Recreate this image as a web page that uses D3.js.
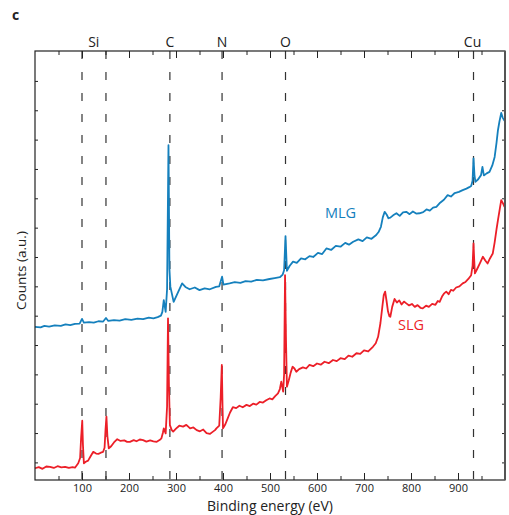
<!DOCTYPE html>
<html>
<head>
<meta charset="utf-8">
<script src="https://cdn.jsdelivr.net/npm/d3@7"></script>
<style>
  body { margin: 0; background: white; }
  svg text { font-family: "Open Sans", sans-serif; }
</style>
</head>
<body>
<div id="chart"></div>
<script>
// Define constants and variables
const width = 509;
const height = 515;
const margin = { top: 51, right: 4, bottom: 35, left: 35 };

// MLG survey spectrum (binding energy in eV, counts in a.u.)
const energyMLG = [0, 12, 20, 30, 42, 55, 65, 75, 85, 95, 100, 104, 115, 125, 135, 145, 151, 156, 168, 180,
  192, 205, 218, 230, 242, 252, 261, 268, 271, 274, 278, 281, 284, 286, 288, 295, 303, 313, 320, 329,
  340, 350, 361, 372, 385, 392, 398, 401, 414, 425, 437, 448, 460, 472, 485, 499, 510, 521, 527, 530,
  533, 536, 542, 549, 557, 566, 575, 584, 592, 602, 611, 620, 630, 640, 650, 660, 668, 677, 688, 697,
  706, 716, 726, 731, 736, 740, 744, 748, 752, 756, 762, 769, 776, 783, 790, 797, 804, 811, 818, 826,
  833, 840, 847, 854, 862, 870, 878, 885, 893, 902, 910, 918, 924, 928, 931, 933, 935, 937, 943, 949,
  952, 955, 961, 967, 973, 978, 982, 985, 988, 992, 995, 999];
const countsMLG = [5.22, 5.20, 5.25, 5.23, 5.27, 5.25, 5.30, 5.28, 5.32, 5.33, 5.49, 5.36, 5.38, 5.36, 5.41, 5.40, 5.52, 5.42, 5.45, 5.43,
  5.48, 5.46, 5.50, 5.48, 5.53, 5.51, 5.55, 5.60, 5.73, 6.13, 5.73, 6.5, 11.41, 7.2, 6.59, 6.07, 6.35, 6.70, 6.58, 6.50,
  6.56, 6.47, 6.53, 6.50, 6.58, 6.60, 6.93, 6.66, 6.70, 6.74, 6.72, 6.78, 6.76, 6.82, 6.80, 6.85, 6.88, 6.91, 7.0, 7.15,
  8.31, 7.13, 7.30, 7.44, 7.40, 7.55, 7.52, 7.63, 7.60, 7.74, 7.70, 7.89, 7.84, 7.98, 7.95, 8.08, 8.02, 8.12, 8.20, 8.14,
  8.27, 8.22, 8.35, 8.45, 8.63, 8.95, 9.14, 9.05, 8.92, 8.94, 9.02, 9.09, 9.00, 9.12, 9.14, 9.06, 9.15, 9.08, 9.09, 9.13,
  9.22, 9.18, 9.28, 9.31, 9.45, 9.55, 9.71, 9.66, 9.78, 9.82, 9.88, 9.93, 9.98, 10.02, 10.2, 10.96, 10.4, 10.16, 10.25, 10.39,
  10.67, 10.38, 10.45, 10.50, 10.72, 11.01, 11.5, 11.92, 12.2, 12.51, 12.35, 12.24];

// SLG survey spectrum
const energySLG = [0, 8, 16, 24, 32, 40, 48, 56, 64, 72, 80, 85, 92, 96, 98, 100.5, 102, 104, 108, 113,
  118, 124, 130, 135, 140, 145, 148, 150, 152, 154, 157, 162, 168, 175, 182, 190, 196, 202, 210, 216,
  223, 230, 237, 245, 252, 259, 265, 269, 272, 274, 278, 281, 283, 285, 287, 291, 294, 300, 307, 315,
  322, 330, 337, 344, 351, 358, 365, 372, 378, 383, 386, 392, 395, 397.5, 399, 400, 405, 410, 415, 421,
  428, 435, 442, 450, 457, 464, 471, 478, 485, 492, 499, 505, 511, 517, 521, 524, 528, 530, 532, 534,
  536, 540, 544, 548, 552, 556, 562, 570, 577, 584, 592, 600, 608, 616, 625, 634, 642, 650, 659, 667,
  675, 684, 692, 700, 709, 719, 725, 730, 735, 739, 742, 745, 748, 751, 754, 756, 760, 765, 770, 775,
  780, 785, 790, 796, 802, 808, 814, 820, 825, 832, 838, 845, 852, 857, 861, 866, 870, 875, 880, 885,
  890, 896, 903, 910, 916, 922, 928, 931, 933, 934.5, 936, 941, 947, 953, 958, 963, 968, 974, 978, 982,
  985, 989, 992, 996, 999];
const countsSLG = [0.40, 0.44, 0.38, 0.46, 0.45, 0.41, 0.47, 0.43, 0.45, 0.41, 0.44, 0.42, 0.57, 0.75, 1.4, 2.02, 1.2, 0.57, 0.62, 0.66,
  0.80, 0.96, 0.90, 0.89, 0.93, 0.96, 1.1, 1.7, 2.16, 1.5, 1.08, 1.15, 1.28, 1.39, 1.33, 1.35, 1.30, 1.30, 1.36, 1.32,
  1.38, 1.36, 1.31, 1.35, 1.32, 1.30, 1.36, 1.42, 1.6, 1.76, 1.59, 2.5, 5.51, 3.2, 1.87, 1.7, 1.65, 1.75, 1.85, 1.82,
  1.88, 1.76, 1.79, 1.70, 1.66, 1.72, 1.60, 1.57, 1.64, 1.70, 1.76, 1.85, 2.8, 3.92, 2.5, 1.76, 1.9, 2.1, 2.3, 2.48,
  2.45, 2.53, 2.48, 2.56, 2.52, 2.60, 2.57, 2.66, 2.64, 2.72, 2.78, 2.75, 2.86, 2.95, 3.10, 3.35, 3.01, 3.6, 6.98, 4.8,
  3.18, 3.40, 3.66, 3.86, 3.80, 3.69, 3.78, 3.84, 3.80, 3.92, 3.88, 3.97, 3.93, 4.03, 3.98, 4.09, 4.05, 4.15, 4.12, 4.24,
  4.20, 4.32, 4.30, 4.42, 4.38, 4.54, 4.66, 4.88, 5.35, 5.90, 6.3, 6.42, 6.1, 5.75, 5.58, 5.56, 5.9, 6.17, 6.05, 6.12,
  5.98, 6.08, 6.02, 5.95, 6.00, 5.90, 5.96, 5.87, 5.85, 5.94, 5.90, 6.00, 5.97, 6.10, 6.07, 6.25, 6.35, 6.42, 6.33, 6.48,
  6.45, 6.56, 6.60, 6.70, 6.75, 6.85, 6.98, 7.3, 8.06, 7.5, 7.04, 7.20, 7.40, 7.61, 7.48, 7.38, 7.55, 7.72, 8.1, 8.55,
  8.86, 9.25, 9.54, 9.42, 9.31];

// Element reference lines
const elementEnergies = [100, 151, 287, 398, 533, 933];
const elementLabels = [
  { name: "Si", energy: 125 },
  { name: "C", energy: 287 },
  { name: "N", energy: 398 },
  { name: "O", energy: 533 },
  { name: "Cu", energy: 931 }
];
const majorTicks = [100, 200, 300, 400, 500, 600, 700, 800, 900];
const minorTicks = [50, 150, 250, 350, 450, 550, 650, 750, 850, 950];
const yTicks = [0.6, 1.6, 2.6, 3.6, 4.6, 5.6, 6.6, 7.6, 8.6, 9.6, 10.6, 11.6, 12.6, 13.6];

const colorMLG = "#1580bd";
const colorSLG = "#ec1f28";

const svg = d3.select("#chart").append("svg").attr("width", width).attr("height", height);

const x = d3.scaleLinear().domain([0, 1000]).range([margin.left, width - margin.right]);
const y = d3.scaleLinear().domain([0, 14.62]).range([height - margin.bottom, margin.top]);

const x0 = margin.left, x1 = width - margin.right;
const y0 = margin.top, y1 = height - margin.bottom;

// dashed element lines (drawn first, behind the spectra)
svg.selectAll(".elem")
  .data(elementEnergies)
  .enter().append("line")
  .attr("class", "elem")
  .attr("x1", d => x(d)).attr("x2", d => x(d))
  .attr("y1", y0).attr("y2", y1)
  .attr("stroke", "#333")
  .attr("stroke-width", 1.2)
  .attr("stroke-dasharray", "8,13");

// spectra
const line = d3.line().x(d => x(d[0])).y(d => y(d[1]));

svg.append("path")
  .datum(d3.zip(energySLG, countsSLG))
  .attr("d", line)
  .attr("fill", "none")
  .attr("stroke", colorSLG)
  .attr("stroke-width", 1.8)
  .attr("stroke-linejoin", "round");

svg.append("path")
  .datum(d3.zip(energyMLG, countsMLG))
  .attr("d", line)
  .attr("fill", "none")
  .attr("stroke", colorMLG)
  .attr("stroke-width", 1.8)
  .attr("stroke-linejoin", "round");

// axes - ticks point inward
function styleAxis(g) {
  g.select(".domain").remove();
  g.selectAll(".tick line").attr("stroke", "#222");
}

svg.append("g")
  .attr("transform", `translate(0,${y1})`)
  .call(d3.axisBottom(x).tickValues(majorTicks).tickSize(-7).tickPadding(4).tickFormat(d3.format("d")))
  .call(styleAxis)
  .call(g => g.selectAll("text").attr("font-size", 11).attr("fill", "#222").style("font-family", "Open Sans"));

svg.append("g")
  .attr("transform", `translate(0,${y1})`)
  .call(d3.axisBottom(x).tickValues(minorTicks).tickSize(-4).tickFormat(""))
  .call(styleAxis);

svg.append("g")
  .attr("transform", `translate(0,${y0})`)
  .call(d3.axisTop(x).tickValues(majorTicks).tickSize(-7).tickFormat(""))
  .call(styleAxis);

svg.append("g")
  .attr("transform", `translate(0,${y0})`)
  .call(d3.axisTop(x).tickValues(minorTicks).tickSize(-4).tickFormat(""))
  .call(styleAxis);

svg.append("g")
  .attr("transform", `translate(${x0},0)`)
  .call(d3.axisLeft(y).tickValues(yTicks).tickSize(-3).tickFormat(""))
  .call(styleAxis);

svg.append("g")
  .attr("transform", `translate(${x1},0)`)
  .call(d3.axisRight(y).tickValues(yTicks).tickSize(-3).tickFormat(""))
  .call(styleAxis);

// frame
svg.append("rect")
  .attr("x", x0).attr("y", y0)
  .attr("width", x1 - x0).attr("height", y1 - y0)
  .attr("fill", "none")
  .attr("stroke", "#222")
  .attr("stroke-width", 1.2);

svg.append("line")
  .attr("x1", x1).attr("x2", x1).attr("y1", y0).attr("y2", y1)
  .attr("stroke", "#555").attr("stroke-width", 2);

// element labels above the frame
svg.selectAll(".elem-label")
  .data(elementLabels)
  .enter().append("text")
  .attr("class", "elem-label")
  .attr("x", d => x(d.energy))
  .attr("y", 47)
  .attr("text-anchor", "middle")
  .attr("font-size", 14)
  .attr("fill", "#222")
  .text(d => d.name);

// series labels
svg.append("text")
  .attr("x", x(650)).attr("y", y(8.93))
  .attr("text-anchor", "middle")
  .attr("font-size", 14.5)
  .attr("fill", colorMLG)
  .text("MLG");

svg.append("text")
  .attr("x", x(800)).attr("y", y(5.11))
  .attr("text-anchor", "middle")
  .attr("font-size", 14.5)
  .attr("fill", colorSLG)
  .text("SLG");

// axis titles
svg.append("text")
  .attr("x", (x0 + x1) / 2).attr("y", 511)
  .attr("text-anchor", "middle")
  .attr("font-size", 14)
  .attr("fill", "#222")
  .text("Binding energy (eV)");

svg.append("text")
  .attr("transform", `translate(26,${(y0 + y1) / 2 + 5}) rotate(-90)`)
  .attr("text-anchor", "middle")
  .attr("font-size", 13.5)
  .attr("fill", "#222")
  .text("Counts (a.u.)");

// panel letter
svg.append("text")
  .attr("x", 12).attr("y", 20)
  .attr("font-size", 14)
  .attr("font-weight", "bold")
  .attr("fill", "#222")
  .text("c");
</script>
</body>
</html>
